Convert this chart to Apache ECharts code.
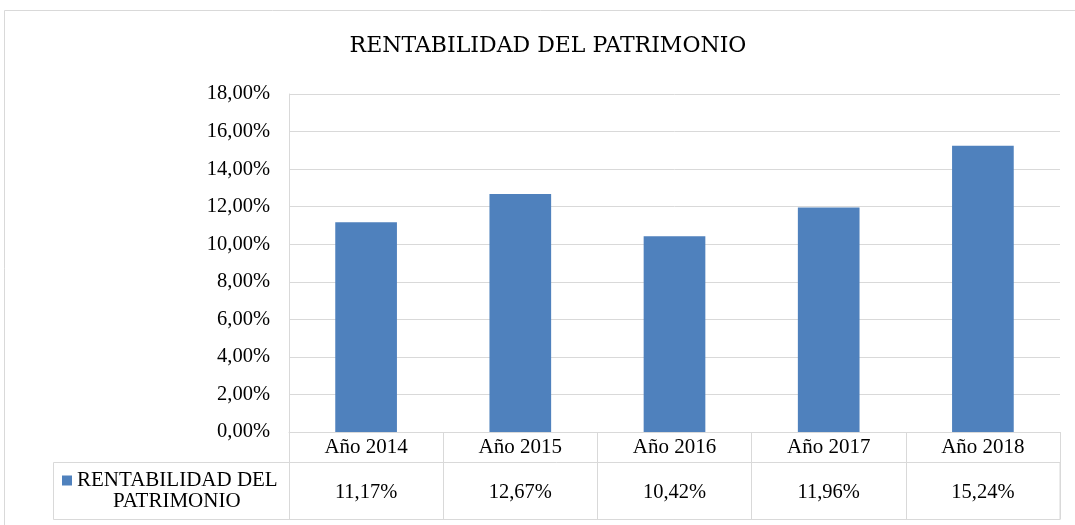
<!DOCTYPE html>
<html><head><meta charset="utf-8">
<script src="https://cdn.jsdelivr.net/npm/echarts@6/dist/echarts.min.js"></script>
<style>html,body{margin:0;padding:0;background:#fff}#c{width:1075px;height:525px}</style>
</head><body><div id="c"></div>
<script>
const chartTitle = 'RENTABILIDAD DEL PATRIMONIO';
const seriesName = 'RENTABILIDAD DEL PATRIMONIO';
const categories = ['Año 2014', 'Año 2015', 'Año 2016', 'Año 2017', 'Año 2018'];
const values = [11.17, 12.67, 10.42, 11.96, 15.24];
const yMin = 0, yMax = 18, yStep = 2;

const fmt = v => v.toFixed(2).replace('.', ',') + '%';
const FONT = 'Liberation Serif';
const GRAY = '#d9d9d9';
const TXT = '#000000';
const G = { left: 289, right: 15, top: 94, bottom: 93 };
const W = 1075, H = 525;
const tableBottom = 519, rowSplit = 462;

const chart = echarts.init(document.getElementById('c'), null, { renderer: 'canvas' });
chart.setOption({
  animation: false,
  backgroundColor: '#ffffff',
  grid: [
    { left: G.left, right: G.right, top: G.top, bottom: G.bottom },
    { left: G.left, right: G.right, top: H - G.bottom, bottom: H - tableBottom }
  ],
  legend: {
    data: [seriesName], left: 62, top: 470, padding: 0,
    itemWidth: 10, itemHeight: 10, icon: 'rect', selectedMode: false,
    formatter: name => { const i = name.lastIndexOf(' '); return '{a|' + name.slice(0, i) + '}\n{b|' + name.slice(i + 1) + '}'; },
    textStyle: {
      fontFamily: FONT, fontSize: 21, color: TXT,
      rich: {
        a: { fontFamily: FONT, fontSize: 21, color: TXT, lineHeight: 42 },
        b: { fontFamily: FONT, fontSize: 21, color: TXT, lineHeight: 0, padding: [0, 0, 0, 36] }
      }
    }
  },
  xAxis: [
    { type: 'category', data: categories, gridIndex: 0,
      axisLine: { show: true, lineStyle: { color: GRAY } }, axisTick: { show: false },
      axisLabel: { margin: 5, fontFamily: FONT, fontSize: 21, color: TXT } },
    { type: 'category', data: values.map(fmt), gridIndex: 0, position: 'bottom', offset: 45,
      axisLine: { show: false }, axisTick: { show: false },
      axisLabel: { margin: 5, fontFamily: FONT, fontSize: 20.5, color: TXT } },
    { type: 'category', data: categories, gridIndex: 1, position: 'bottom',
      axisLine: { show: true, lineStyle: { color: GRAY } }, axisTick: { show: false },
      axisLabel: { show: false },
      splitLine: { show: true, interval: 0, lineStyle: { color: GRAY, width: 1 } } }
  ],
  yAxis: [
    { type: 'value', gridIndex: 0, min: yMin, max: yMax, interval: yStep,
      axisLine: { show: true, lineStyle: { color: GRAY } }, axisTick: { show: false },
      axisLabel: { margin: 19, fontFamily: FONT, fontSize: 20.5, color: TXT, formatter: v => fmt(v) },
      splitLine: { show: true, lineStyle: { color: GRAY, width: 1 } } },
    { type: 'value', gridIndex: 1, show: false }
  ],
  series: [
    { name: seriesName, type: 'bar', data: values, xAxisIndex: 0, yAxisIndex: 0,
      barWidth: '40%', itemStyle: { color: '#4f81bd' } }
  ],
  graphic: [
    { type: 'rect', silent: true, shape: { x: 4.5, y: 10.5, width: W + 20, height: H + 20 },
      style: { fill: null, stroke: GRAY, lineWidth: 1 } },
    { type: 'rect', silent: true, shape: { x: 53.5, y: rowSplit + 0.5, width: W - G.right - 53.5, height: tableBottom - rowSplit },
      style: { fill: null, stroke: GRAY, lineWidth: 1 } },
    { type: 'text', silent: true, x: 548, y: 46,
      style: { text: chartTitle, fontFamily: 'DejaVu Serif', fontSize: 22, fill: TXT, align: 'center', verticalAlign: 'middle' } }
  ]
});
</script></body></html>
